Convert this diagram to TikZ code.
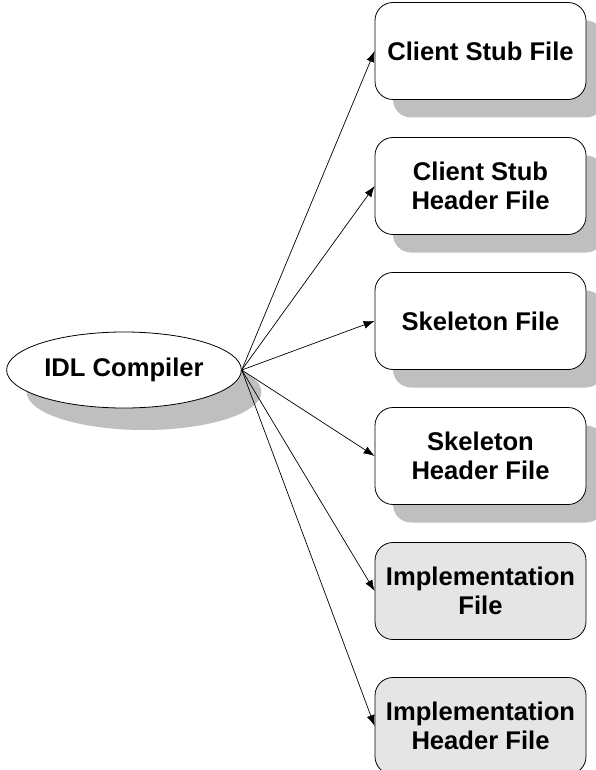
\documentclass[tikz,border=0pt]{standalone}
\usepackage{fontspec}
\setmainfont{Liberation Sans}
\usetikzlibrary{positioning,shapes,shadows,arrows.meta}
\tikzstyle{filebox} = [rectangle, rounded corners=18pt, minimum width=211pt, minimum height=97pt, text centered, align=center, draw=black, line width=0.8pt, font=\bfseries\fontsize{25.6}{29}\selectfont]
\tikzstyle{genfile} = [filebox, fill=white, drop shadow={shadow xshift=18pt, shadow yshift=-18pt, fill=gray!50, opacity=1}]
\tikzstyle{implfile} = [filebox, fill=gray!20]
\tikzstyle{compiler} = [ellipse, minimum width=232pt, minimum height=76pt, text centered, draw=black, line width=0.8pt, fill=white, font=\bfseries\fontsize{25.6}{29}\selectfont, drop shadow={shadow xshift=20pt, shadow yshift=-22pt, fill=gray!50, opacity=1}]
\tikzstyle{arrow} = [line width=0.7pt, -{Latex[length=11pt, width=8pt]}]

\begin{document}
\begin{tikzpicture}[x=1pt, y=1pt, node distance=135pt]
\useasboundingbox (0,0) rectangle (595,-770);

\node (idl) [compiler] at (124,-370) {IDL Compiler};

\node (stub) [genfile] at (480.5,-51) {Client Stub File};
\node (stubhdr) [genfile, below of=stub] {Client Stub\\Header File};
\node (skel) [genfile, below of=stubhdr] {Skeleton File};
\node (skelhdr) [genfile, below of=skel] {Skeleton\\Header File};
\node (impl) [implfile, below of=skelhdr] {Implementation\\File};
\node (implhdr) [implfile, below of=impl] {Implementation\\Header File};

\draw [arrow] (idl.east) -- (stub.west);
\draw [arrow] (idl.east) -- (stubhdr.west);
\draw [arrow] (idl.east) -- (skel.west);
\draw [arrow] (idl.east) -- (skelhdr.west);
\draw [arrow] (idl.east) -- (impl.west);
\draw [arrow] (idl.east) -- (implhdr.west);
\end{tikzpicture}
\end{document}
